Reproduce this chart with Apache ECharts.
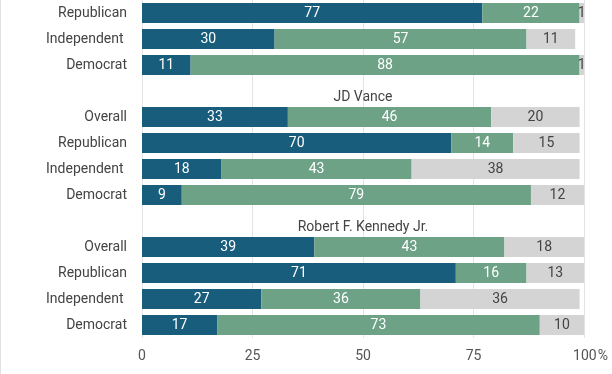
<!DOCTYPE html>
<html>
<head>
<meta charset="utf-8">
<script src="https://cdn.jsdelivr.net/npm/echarts@6/dist/echarts.min.js"></script>
<style>
html,body{margin:0;padding:0;background:#fff;}
#chart{width:612px;height:374px;}
</style>
</head>
<body>
<div id="chart"></div>
<script>
// Panel 1 (title cut off at top)
const groups1 = ['Republican', 'Independent ', 'Democrat'];
const favorable1 = [77, 30, 11];
const unfavorable1 = [22, 57, 88];
const noOpinion1 = [1, 11, 1];

// Panel 2
const title2 = 'JD Vance';
const groups2 = ['Overall', 'Republican', 'Independent ', 'Democrat'];
const favorable2 = [33, 70, 18, 9];
const unfavorable2 = [46, 14, 43, 79];
const noOpinion2 = [20, 15, 38, 12];

// Panel 3
const title3 = 'Robert F. Kennedy Jr.';
const groups3 = ['Overall', 'Republican', 'Independent ', 'Democrat'];
const favorable3 = [39, 71, 27, 17];
const unfavorable3 = [43, 16, 36, 73];
const noOpinion3 = [18, 13, 36, 10];

const xTicks = [0, 25, 50, 75, 100];

// Build rows
const panels = [
  {title: null, groups: groups1, fav: favorable1, unf: unfavorable1, no: noOpinion1},
  {title: title2, groups: groups2, fav: favorable2, unf: unfavorable2, no: noOpinion2},
  {title: title3, groups: groups3, fav: favorable3, unf: unfavorable3, no: noOpinion3}
];
const cats = [], favData = [], unfData = [], noData = [], titleData = [], titleText = [];
panels.forEach((p, pi) => {
  if (p.title) {
    cats.push('#title' + pi);
    favData.push(null); unfData.push(null); noData.push(null);
    titleData.push(100); titleText.push(p.title);
  }
  p.groups.forEach((g, i) => {
    cats.push(g + '|' + pi + '|' + i);
    favData.push(p.fav[i]); unfData.push(p.unf[i]); noData.push(p.no[i]);
    titleData.push(null); titleText.push('');
  });
});

const FONT = 'Roboto';
const chart = echarts.init(document.getElementById('chart'), null, {renderer: 'canvas'});

function segLabel(color) {
  return {show: true, position: 'inside', color: color, fontFamily: FONT, fontSize: 14, formatter: p => p.value};
}
const barCommon = {type: 'bar', stack: 'total', barCategoryGap: '23%', silent: true};

chart.setOption({
  animation: false,
  backgroundColor: '#fff',
  grid: {left: 142, right: 28, top: 0, bottom: 36, containLabel: false},
  xAxis: {
    type: 'value', min: 0, max: 100, interval: 25,
    axisLine: {show: false}, axisTick: {show: false},
    splitLine: {show: true, lineStyle: {color: '#e4e4e4', width: 1}},
    axisLabel: {
      margin: 11, color: '#555', fontFamily: FONT, fontSize: 14,
      formatter: v => v === xTicks[xTicks.length - 1] ? '{pad|}{n|' + v + '}{p|%}' : String(v),
      rich: {
        n: {color: '#555', fontFamily: FONT, fontSize: 14},
        p: {color: '#555', fontFamily: FONT, fontSize: 14, padding: [0, 0, 0, 1]},
        pad: {width: 13}
      }
    }
  },
  yAxis: {
    type: 'category', inverse: true, data: cats,
    axisLine: {show: false}, axisTick: {show: false}, splitLine: {show: false},
    axisLabel: {
      margin: 15, color: '#444', fontFamily: FONT, fontSize: 14,
      formatter: v => v.indexOf('#title') === 0 ? '' : v.split('|')[0]
    }
  },
  series: [
    Object.assign({}, barCommon, {name: 'Favorable', data: favData, itemStyle: {color: '#195d7d'}, label: segLabel('#fff')}),
    Object.assign({}, barCommon, {name: 'Unfavorable', data: unfData, itemStyle: {color: '#6ea286'}, label: segLabel('#fff')}),
    Object.assign({}, barCommon, {name: 'No opinion', data: noData, itemStyle: {color: '#d4d4d4'}, label: segLabel('#444')}),
    Object.assign({}, barCommon, {
      name: 'title', data: titleData, itemStyle: {color: 'rgba(0,0,0,0)'},
      label: {show: true, position: 'inside', offset: [0, 6], color: '#444', fontFamily: FONT, fontSize: 14,
        formatter: p => titleText[p.dataIndex]}
    })
  ],
  graphic: [{
    type: 'rect', left: 0, top: 0, shape: {width: 1, height: 374},
    style: {fill: '#e2e2e2'}, silent: true
  }]
});
</script>
</body>
</html>
